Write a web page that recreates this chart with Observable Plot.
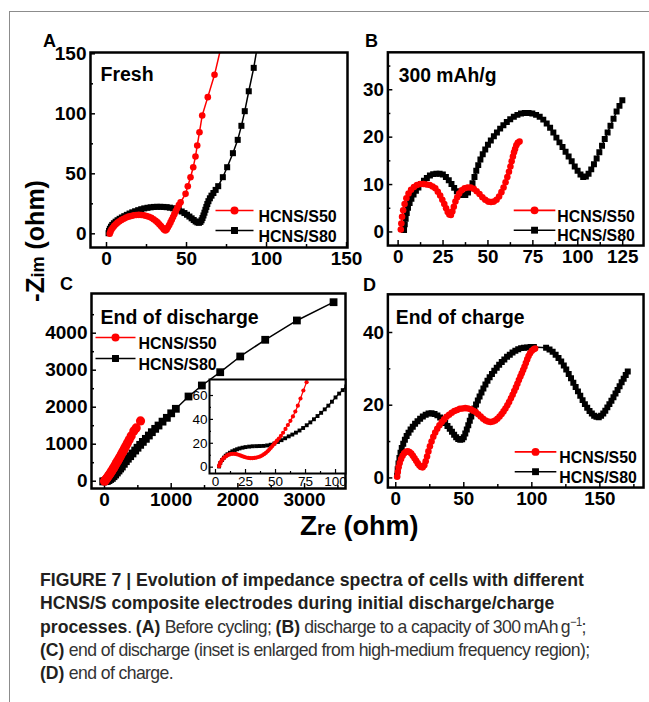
<!DOCTYPE html>
<html><head><meta charset="utf-8">
<script src="https://cdn.jsdelivr.net/npm/d3@7"></script>
<script src="https://cdn.jsdelivr.net/npm/@observablehq/plot@0.6"></script>
<style>
html,body{margin:0;padding:0;background:#fff;}
#root{position:relative;width:649px;height:702px;overflow:hidden;font-family:"Liberation Sans",Arial,Helvetica,sans-serif;}
.panel{position:absolute;}
.border{position:absolute;left:9px;top:11px;width:720px;height:760px;border-left:1.5px solid #8c8c8c;border-top:1.5px solid #8c8c8c;}
#caption{position:absolute;left:40px;top:568px;width:700px;font-family:"Liberation Sans",Arial,sans-serif;font-size:19px;line-height:23.3px;color:#231f20;white-space:nowrap;transform:scaleX(0.928);transform-origin:0 0;}
#caption sup{font-size:12px;line-height:0;}
#caption .n{letter-spacing:-0.65px;color:#333;}
</style></head>
<body><div id="root"><div class="border"></div></div>
<script>
// ---------------- data ----------------
const seriesNames = ["HCNS/S50", "HCNS/S80"];
const panelTitles = ["Fresh", "300 mAh/g", "End of discharge", "End of charge"];

// Panel A (fresh)
const freshS50 = [[2,0],[2.5,1.8],[3.1,3.5],[3.9,5.1],[4.8,6.6],[5.8,8],[6.9,9.3],[8.1,10.5],[9.4,11.6],[10.8,12.6],[12.3,13.5],[13.8,14.3],[15.4,14.9],[17,15.4],[18.6,15.7],[20.2,15.8],[21.8,15.7],[23.4,15.4],[25,14.9],[26.5,14.2],[28,13.3],[29.4,12.2],[30.7,10.9],[31.9,9.5],[33,8],[34,6.5],[35,5],[35.9,3.6],[36.8,2.8],[37.6,3.6],[38.4,5.4],[39.2,7.4],[40,9.5],[40.8,11.7],[41.6,14],[42.4,16.4],[43.3,18.9],[44.2,21.4],[45.2,23.9],[46.3,26.3],[49.4,33.3],[50.8,39.7],[52.5,47.2],[54.2,55.5],[55.6,64.4],[56.7,73.6],[58.1,84.7],[59.8,98.6],[63.3,113.9],[67.5,132.5],[72,158]];
const freshS80 = [[1.3,0.5],[1.6,2.4],[2.1,4.2],[2.8,5.9],[3.6,7.4],[4.6,8.8],[5.7,10.1],[6.9,11.3],[8.2,12.5],[9.6,13.6],[11.1,14.7],[12.7,15.8],[14.4,16.9],[16.1,17.9],[17.9,18.8],[19.8,19.7],[21.7,20.5],[23.6,21.2],[25.6,21.7],[27.6,22.1],[29.6,22.4],[31.6,22.5],[33.6,22.5],[35.6,22.4],[37.6,22.2],[39.6,21.8],[41.5,21.3],[43.4,20.6],[45.2,19.7],[47,18.6],[48.7,17.3],[50.3,15.9],[51.8,14.4],[53.2,12.9],[54.5,11.5],[55.7,10.3],[56.8,9.5],[57.8,9.2],[58.7,9.9],[59.4,11.3],[60,13.2],[60.6,15.3],[61.2,17.6],[61.8,20],[62.4,22.4],[63,24.8],[63.7,27.2],[64.6,29.6],[65.6,31.8],[66.8,34],[68.2,36.6],[69.8,39.7],[72.7,47.2],[75.4,55.5],[79,67.2],[82,78.3],[84.3,90],[86.4,102.2],[88.9,118.8],[92,138.3],[94.5,158]];

// Panel B (300 mAh/g)
const mah300S50 = [[1.5,0.5],[1.8,1.8],[2.2,3.2],[2.8,4.6],[3.6,5.9],[4.6,7.1],[5.8,8.1],[7.2,8.9],[8.8,9.5],[10.5,9.9],[12.3,10.1],[14.1,10.1],[15.9,10],[17.6,9.9],[19.2,9.6],[20.7,9.2],[22.1,8.5],[23.4,7.7],[24.6,6.8],[25.7,5.9],[26.7,5],[27.6,4.2],[28.5,3.7],[29.4,3.6],[30.2,4.3],[31,5.3],[31.9,6.4],[32.9,7.3],[34,8.1],[35.4,8.8],[37,9.2],[38.7,9.4],[40.4,9.4],[42.1,9.1],[43.7,8.6],[45.3,8],[46.9,7.3],[48.5,6.8],[50.1,6.4],[51.7,6.3],[53.3,6.4],[54.8,6.8],[56.2,7.5],[57.5,8.4],[58.7,9.4],[59.8,10.5],[60.8,11.6],[61.7,12.7],[62.5,13.8],[63.2,14.9],[63.9,15.9],[64.5,16.8],[65.1,17.5],[65.8,18.3],[66.6,18.8],[67.6,19.1]];
const mah300S80 = [[3.3,0.4],[3.7,1.6],[4.2,2.8],[4.8,4],[5.5,5.1],[6.4,6.1],[7.4,7],[8.6,7.9],[9.9,8.7],[11.3,9.4],[12.8,10.1],[14.4,10.8],[16,11.4],[17.7,11.9],[19.5,12.2],[21.3,12.3],[23.1,12.3],[24.9,12.1],[26.6,11.6],[28.2,10.9],[29.7,10.1],[31.2,9.3],[32.7,8.6],[34.2,8.1],[35.8,7.8],[37.4,7.8],[38.9,8.3],[40.2,9.2],[41.4,10.3],[42.5,11.6],[43.5,12.9],[44.6,14.1],[45.8,15.3],[47.1,16.4],[48.5,17.4],[50,18.4],[51.6,19.3],[53.3,20.2],[55,21],[56.8,21.8],[58.6,22.5],[60.5,23.2],[62.4,23.8],[64.4,24.3],[66.4,24.7],[68.4,25],[70.5,25.1],[72.6,25.1],[74.7,25],[76.8,24.7],[78.8,24.3],[80.8,23.7],[82.7,22.9],[84.6,22],[86.4,21],[88.1,19.9],[89.8,18.9],[91.5,17.9],[93.2,16.9],[94.9,15.9],[96.6,14.9],[98.3,13.8],[99.9,12.9],[101.5,12.1],[103,11.6],[104.5,11.7],[106,12.3],[107.5,13.2],[109,14.3],[110.5,15.5],[112,16.8],[113.5,18.2],[115,19.6],[116.6,21],[118.2,22.4],[119.9,23.9],[121.6,25.4],[123.2,26.6],[124.8,27.8]];

// Panel C (end of discharge)
const dischargeS50 = [[0,0],[10,22],[22,50],[35,82],[48,115],[62,150],[76,187],[90,225],[104,264],[118,304],[132,345],[146,387],[160,430],[175,476],[190,523],[206,574],[222,626],[240,684],[258,744],[278,810],[298,878],[320,952],[344,1034],[370,1120],[400,1225],[440,1360],[475,1440],[540,1630]];
const dischargeS80 = [[-20,-5],[0,0],[20,5],[40,12],[60,30],[85,60],[110,90],[135,135],[160,180],[185,235],[210,289],[235,343],[260,397],[290,470],[320,541],[350,608],[385,676],[420,750],[460,829],[495,905],[535,983],[575,1063],[620,1145],[665,1235],[710,1325],[760,1415],[810,1505],[870,1610],[935,1713],[1000,1835],[1070,1957],[1260,2289],[1460,2587],[1735,2946],[2035,3371],[2410,3822],[2885,4344],[3435,4838]];
const insetS50 = [[3,0.8],[3.5,2.5],[4.2,4.1],[5.1,5.5],[6.1,6.8],[7.2,7.9],[8.4,8.9],[9.7,9.8],[11.1,10.5],[12.6,11],[14.2,11.2],[15.8,11.2],[17.4,10.9],[19,10.4],[20.6,9.8],[22.2,9.2],[23.9,8.6],[25.6,8.1],[27.3,7.7],[29,7.5],[30.7,7.5],[32.4,7.7],[34.1,8],[35.8,8.5],[37.4,9.1],[39,9.9],[40.5,10.9],[42,12],[43.4,13.3],[44.8,14.7],[46.1,16.2],[47.4,17.7],[48.6,19.2],[49.8,20.6],[51.2,22.2],[52.8,24],[54.5,26.2],[56.3,28.8],[58.3,32],[60.3,35.3],[62.4,38.8],[64.5,42.5],[66.5,46.6],[68.6,51.5],[70.8,57.5],[73.2,64.2],[75.9,71.2]];
const insetS80 = [[3,0.6],[4,3.5],[5.5,6],[7,8],[8.5,9.6],[10,10.8],[12,12.1],[14,13.3],[16,14.2],[18,15],[20,15.7],[22.5,16.3],[25,16.8],[28,17.2],[31,17.5],[34,17.6],[37,17.7],[40,17.8],[43,18.2],[46,18.8],[49,19.8],[52,21.1],[55,22.6],[58,24.2],[61,25.8],[64,27.3],[67,28.9],[70,30.7],[73,32.8],[76,35.1],[79,37.5],[82,40.1],[85,42.8],[88,45.5],[91,48.4],[94,51.5],[97,54.8],[100,58.4],[103,61.6],[106,64.5],[109,67.5]];

// Panel D (end of charge)
const chargeS50 = [[1,0.3],[1.5,1.6],[2.1,2.9],[2.9,4.1],[3.9,5.2],[5,6.1],[6.2,6.8],[7.5,7.2],[8.8,7.3],[10.1,7.1],[11.4,6.7],[12.6,6.1],[13.8,5.4],[15,4.7],[16.2,4],[17.4,3.4],[18.6,3],[19.8,2.9],[21,3.5],[22,4.6],[23,5.9],[24,7.3],[25.1,8.7],[26.3,10],[27.6,11.3],[29,12.5],[30.5,13.5],[32.1,14.5],[33.8,15.4],[35.5,16.1],[37.3,16.8],[39.2,17.4],[41.1,17.9],[43.1,18.4],[45.1,18.7],[47.1,19],[49.1,19.1],[51.1,19.2],[53.1,19.1],[55.1,18.9],[57,18.5],[58.8,18.1],[60.6,17.5],[62.4,16.9],[64.2,16.3],[66,15.8],[67.8,15.5],[69.6,15.4],[71.4,15.5],[73.1,15.8],[74.7,16.3],[76.3,16.9],[77.8,17.6],[79.2,18.3],[80.6,19.1],[82,20],[83.3,20.9],[84.6,21.9],[85.9,22.9],[87.1,23.9],[88.3,24.9],[89.4,25.9],[90.5,26.9],[91.6,27.9],[92.6,28.8],[93.6,29.7],[94.6,30.6],[95.6,31.6],[96.6,32.6],[97.6,33.5],[98.7,34.3],[100,35],[101.4,35.4],[102.4,35.6]];
const chargeS80 = [[1,0.7],[1.4,2.4],[2,4],[2.7,5.5],[3.5,6.9],[4.4,8.2],[5.5,9.4],[6.7,10.5],[8,11.5],[9.4,12.4],[10.9,13.3],[12.5,14.1],[14.2,14.9],[16,15.6],[17.9,16.3],[19.9,16.9],[22,17.4],[24.1,17.7],[26.3,17.8],[28.5,17.6],[30.6,17.2],[32.6,16.6],[34.5,15.9],[36.3,15.1],[38,14.3],[39.7,13.5],[41.3,12.7],[42.9,11.9],[44.4,11.2],[45.9,10.7],[47.4,10.5],[48.8,10.6],[50,11.2],[51.1,12.2],[52.2,13.3],[53.3,14.5],[54.4,15.7],[55.5,16.9],[56.6,18],[57.8,19.1],[59,20.2],[60.3,21.3],[61.6,22.4],[63,23.5],[64.4,24.6],[65.9,25.7],[67.4,26.7],[69,27.7],[70.7,28.6],[72.4,29.5],[74.2,30.3],[76,31.1],[77.9,31.9],[79.8,32.6],[81.8,33.3],[83.8,33.9],[85.8,34.5],[87.9,35],[90,35.4],[92.1,35.7],[94.2,35.8],[96.5,35.9],[99,36],[101.5,36],[110.5,35.8],[113,35.3],[115.3,34.7],[117.5,33.9],[119.6,33],[121.6,32],[123.5,30.9],[125.3,29.8],[127.1,28.6],[128.8,27.4],[130.5,26.2],[132.2,25],[133.9,23.8],[135.6,22.6],[137.3,21.4],[139,20.3],[140.7,19.3],[142.4,18.4],[144.1,17.7],[145.8,17.1],[147.5,16.8],[149.2,16.7],[150.9,17.1],[152.5,17.7],[154,18.5],[155.5,19.4],[157,20.3],[158.5,21.2],[160,22.2],[161.5,23.2],[163,24.2],[164.5,25.2],[166,26.3],[167.5,27.3],[169,28.3],[170.5,29.3]];

// tick values
const aXMajor = [0,50,100,150], aXMinor = [25,75,125];
const aYMajor = [0,50,100,150], aYMinor = [25,75,125];
const bXMajor = [0,25,50,75,100,125], bXMinor = [12.5,37.5,62.5,87.5,112.5];
const bYMajor = [0,10,20,30], bYMinor = [5,15,25,35];
const cXMajor = [0,1000,2000,3000], cXMinor = [500,1500,2500,3500];
const cYMajor = [0,1000,2000,3000,4000], cYMinor = [500,1500,2500,3500,4500];
const iXMajor = [0,25,50,75,100], iXMinor = [12.5,37.5,62.5,87.5];
const iYMajor = [0,20,40,60], iYMinor = [10,30,50];
const dXMajor = [0,50,100,150], dXMinor = [25,75,125,175];
const dYMajor = [0,20,40], dYMinor = [10,30];

// ---------------- drawing ----------------
const FONT = '"Liberation Sans", Arial, Helvetica, sans-serif';
const RED = "#ff0000", BLACK = "#000000";
const lineSymbol = (half) => ({draw(ctx) { ctx.moveTo(-half, 0); ctx.lineTo(half, 0); }});
const root = document.getElementById("root");

function panel(o) {
  const [l, t, r, b] = o.frame;
  const mL = 70, mT = 20, mR = 6, mB = 34;
  const iw = r - l, ih = b - t;
  const fs = o.fontSize || 19;
  const marks = [];
  if (o.bgWhite) marks.push(Plot.frame({fill: "white", stroke: "none"}));
  const majLen = o.majLen || 5, minLen = o.minLen || 3, tw = o.tickWidth || 1.5;
  marks.push(
    Plot.tickX(o.xMajor, {x: d => d, insetTop: ih - majLen, strokeWidth: tw}),
    Plot.tickX(o.xMinor, {x: d => d, insetTop: ih - minLen, strokeWidth: tw}),
    Plot.tickY(o.yMajor, {y: d => d, insetRight: iw - majLen, strokeWidth: tw}),
    Plot.tickY(o.yMinor, {y: d => d, insetRight: iw - minLen, strokeWidth: tw}),
    Plot.axisX(o.xMajor, {tickSize: 0, tickPadding: o.xPad ?? 4, tickFormat: d => String(d), fontSize: fs}),
    Plot.axisY(o.yMajor, {tickSize: 0, tickPadding: o.yPad ?? 4, tickFormat: d => String(d), fontSize: fs})
  );
  for (const s of o.series) {
    marks.push(Plot.line(s.data, {x: d => d[0], y: d => d[1], stroke: s.color, strokeWidth: s.lw || 1.5, clip: true}));
    marks.push(Plot.dot(s.data, {x: d => d[0], y: d => d[1], fill: s.color, stroke: "none", symbol: s.symbol, r: s.r, clip: true}));
  }
  if (o.legend) {
    const L = o.legend;
    L.entries.forEach(e => {
      marks.push(
        Plot.dot([0], {frameAnchor: "top-left", dx: L.lx, dy: e.dy, symbol: lineSymbol(L.half), stroke: e.color, strokeWidth: 1.6, fill: "none"}),
        Plot.dot([0], {frameAnchor: "top-left", dx: L.lx, dy: e.dy, symbol: e.symbol, r: e.r, fill: e.color, stroke: "none"}),
        Plot.text([e.label], {frameAnchor: "top-left", dx: L.tx, dy: e.dy, text: d => d, textAnchor: "start", fontSize: 16, fontWeight: "bold"})
      );
    });
  }
  if (o.title) marks.push(Plot.text([o.title], {frameAnchor: "top-left", dx: o.titleDx, dy: o.titleDy, text: d => d, textAnchor: "start", fontSize: 19.5, fontWeight: "bold"}));
  marks.push(Plot.frame({stroke: "black", strokeWidth: o.frameWidth || 2.5}));
  const svg = Plot.plot({
    width: mL + iw + mR, height: mT + ih + mB,
    marginLeft: mL, marginTop: mT, marginRight: mR, marginBottom: mB,
    x: {domain: o.xDomain, axis: null},
    y: {domain: o.yDomain, axis: null},
    style: {fontFamily: FONT, fontWeight: o.weight || "bold", fontSize: fs + "px", color: "black", background: "transparent", overflow: "visible"},
    marks
  });
  const div = document.createElement("div");
  div.className = "panel";
  div.style.left = (l - mL) + "px";
  div.style.top = (t - mT) + "px";
  div.appendChild(svg);
  root.appendChild(div);
}

const leg = (lx, tx, half, dy1, dy2, rr) => ({lx, tx, half, entries: [
  {label: seriesNames[0], color: RED, symbol: "circle", r: rr || 4, dy: dy1},
  {label: seriesNames[1], color: BLACK, symbol: "square", r: (rr || 4) * 0.98, dy: dy2}
]});

// A
panel({frame: [90, 52, 347, 247], xDomain: [-10, 150.6], yDomain: [-11.4, 151.1],
  xMajor: aXMajor, xMinor: aXMinor, yMajor: aYMajor, yMinor: aYMinor,
  series: [{data: freshS80, color: BLACK, symbol: "square", r: 3.4}, {data: freshS50, color: RED, symbol: "circle", r: 3.3}],
  legend: leg(144, 168, 19, 158, 178), title: panelTitles[0], titleDx: 10, titleDy: 15});
// B
panel({frame: [388, 52, 646, 247], xDomain: [-5.7, 136.6], yDomain: [-2.87, 37.9],
  xMajor: bXMajor, xMinor: bXMinor, yMajor: bYMajor, yMinor: bYMinor,
  series: [{data: mah300S80, color: BLACK, symbol: "square", r: 3.4}, {data: mah300S50, color: RED, symbol: "circle", r: 3.3}],
  legend: leg(148, 171, 21, 159.5, 179.5), title: panelTitles[1], titleDx: 11, titleDy: 16});
// C
panel({frame: [91, 293, 345, 488], xDomain: [-195, 3614], yDomain: [-197, 5073],
  xMajor: cXMajor, xMinor: cXMinor, yMajor: cYMajor, yMinor: cYMinor,
  series: [{data: dischargeS80, color: BLACK, symbol: "square", r: 4.4}, {data: dischargeS50, color: RED, symbol: "circle", r: 4.6}],
  legend: leg(24, 47, 20, 44, 65), title: panelTitles[2], titleDx: 9, titleDy: 17});
// C inset
panel({frame: [209, 379, 345, 473], xDomain: [-5, 108.3], yDomain: [-5.3, 73.4],
  xMajor: iXMajor, xMinor: iXMinor, yMajor: iYMajor, yMinor: iYMinor, bgWhite: true,
  fontSize: 13.5, weight: "normal", frameWidth: 2, majLen: 4, minLen: 2, tickWidth: 1.2, xPad: 3, yPad: 2,
  series: [{data: insetS80, color: BLACK, symbol: "square", r: 2.2, lw: 1.2}, {data: insetS50, color: RED, symbol: "circle", r: 2.1, lw: 1.2}]});
// D
panel({frame: [388, 294, 646, 489], xDomain: [-5.8, 182.1], yDomain: [-2.65, 50.5],
  xMajor: dXMajor, xMinor: dXMinor, yMajor: dYMajor, yMinor: dYMinor,
  series: [{data: chargeS80, color: BLACK, symbol: "square", r: 3.4}, {data: chargeS50, color: RED, symbol: "circle", r: 3.3}],
  legend: leg(149, 173, 21, 159, 179), title: panelTitles[3], titleDx: 8, titleDy: 16});

// overlay: panel letters and axis titles
const NS = "http://www.w3.org/2000/svg";
const ov = document.createElementNS(NS, "svg");
ov.setAttribute("width", 649); ov.setAttribute("height", 702);
ov.style.cssText = "position:absolute;left:0;top:0;pointer-events:none;font-family:" + FONT.replace(/"/g, "'") + ";font-weight:bold;";
ov.innerHTML = `
<text x="43" y="47" font-size="18">A</text>
<text x="365" y="47" font-size="18">B</text>
<text x="60" y="290" font-size="18">C</text>
<text x="363" y="291" font-size="18">D</text>
<text transform="translate(44,302) rotate(-90)" font-size="26">-Z<tspan font-size="18">im</tspan><tspan font-size="25"> (ohm)</tspan></text>
<text x="300" y="535" font-size="28">Z<tspan font-size="20">re</tspan><tspan font-size="27"> (ohm)</tspan></text>`;
root.appendChild(ov);

// caption
const cap = document.createElement("div");
cap.id = "caption";
cap.innerHTML = `<b>FIGURE 7 | Evolution of impedance spectra of cells with different<br>HCNS/S composite electrodes during initial discharge/charge<br>processes</b><span class="n">. </span><b>(A)</b><span class="n"> Before cycling; </span><b>(B)</b><span class="n"> discharge to a capacity of 300&thinsp;mAh&thinsp;g<sup>−1</sup>;</span><br><b>(C)</b><span class="n"> end of discharge (inset is enlarged from high-medium frequency region);</span><br><b>(D)</b><span class="n"> end of charge.</span>`;
root.appendChild(cap);
</script>
</body></html>
